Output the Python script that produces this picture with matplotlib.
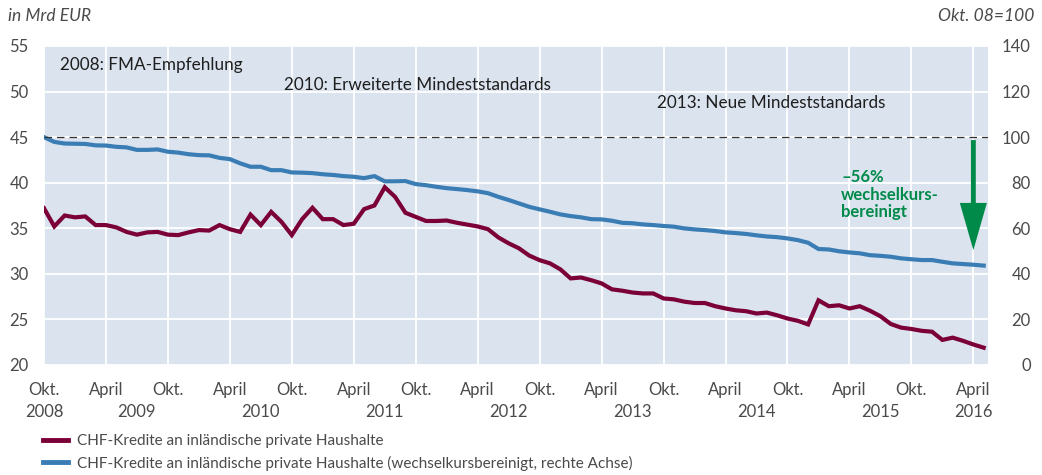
import matplotlib
matplotlib.use("Agg")
import matplotlib.pyplot as plt
import numpy as np
import pandas as pd

plt.rcParams['font.family'] = ['Lato', 'DejaVu Sans']

# monthly data, Okt. 2008 - Mai 2016
months = pd.period_range("2008-10", "2016-05", freq="M")

chf_loans = [
    37.2, 35.2, 36.4, 36.2, 36.3, 35.35, 35.35, 35.1, 34.6, 34.3, 34.55, 34.6,
    34.3, 34.25, 34.55, 34.8, 34.75, 35.35, 34.9, 34.6, 36.5, 35.35, 36.8, 35.7,
    34.25, 36.0, 37.25, 36.0, 36.0, 35.35, 35.5, 37.1, 37.5, 39.5, 38.45, 36.7,
    36.25, 35.8, 35.8, 35.85, 35.6, 35.4, 35.2, 34.9, 34.0, 33.35, 32.8, 32.0,
    31.5, 31.15, 30.5, 29.5, 29.6, 29.3, 28.95, 28.3, 28.15, 27.95, 27.85, 27.85,
    27.3, 27.2, 26.95, 26.8, 26.8, 26.45, 26.2, 26.0, 25.9, 25.65, 25.75, 25.45,
    25.1, 24.85, 24.45, 27.1, 26.45, 26.55, 26.2, 26.45, 25.95, 25.35, 24.5, 24.1,
    23.95, 23.75, 23.65, 22.75, 23.0, 22.65, 22.25, 21.9,
]

chf_loans_fx_adj = [
    100.0, 97.9, 97.2, 97.1, 97.0, 96.4, 96.3, 95.75, 95.5, 94.4, 94.4, 94.6,
    93.6, 93.2, 92.5, 92.1, 92.0, 90.9, 90.35, 88.5, 87.0, 87.0, 85.5, 85.5,
    84.5, 84.4, 84.2, 83.7, 83.4, 82.9, 82.6, 82.0, 82.9, 80.6, 80.6, 80.7,
    79.4, 78.9, 78.2, 77.6, 77.2, 76.75, 76.2, 75.4, 73.8, 72.4, 70.9, 69.4,
    68.3, 67.25, 66.1, 65.35, 64.8, 64.0, 63.9, 63.3, 62.4, 62.2, 61.7, 61.4,
    61.0, 60.7, 59.95, 59.5, 59.2, 58.8, 58.2, 57.9, 57.5, 56.9, 56.4, 56.1,
    55.55, 54.8, 53.65, 50.9, 50.7, 49.9, 49.4, 49.0, 48.2, 47.9, 47.5, 46.8,
    46.4, 46.05, 46.05, 45.3, 44.6, 44.3, 44.0, 43.6,
]

# (text, x in months since Okt. 2008, left-axis y)
events = [
    ("2008: FMA-Empfehlung", 1.55, 52.9),
    ("2010: Erweiterte Mindeststandards", 23.2, 50.7),
    ("2013: Neue Mindeststandards", 59.4, 48.75),
]

label_red = "CHF-Kredite an inländische private Haushalte"
label_blue = "CHF-Kredite an inländische private Haushalte (wechselkursbereinigt, rechte Achse)"

red = "#7b0038"
blue = "#3a7db4"
green = "#008a4a"
bg = "#dbe3ef"
tick_col = "#4a4a4a"

x = np.arange(len(months))

fig = plt.figure(figsize=(10.42, 4.75), dpi=100)
ax = fig.add_axes([0.0422, 0.2316, 0.9058, 0.6716])
ax2 = ax.twinx()

ax.set_facecolor(bg)
ax.set_zorder(1)
ax2.set_zorder(2)
ax2.patch.set_visible(False)

ax.set_xlim(0, 91.4)
ax.set_ylim(20, 55)
ax2.set_ylim(0, 140)
ax.set_yticks(np.arange(20, 56, 5))
ax2.set_yticks(np.arange(0, 141, 20))

# ticks at April and October
tick_pos = [i for i, m in enumerate(months) if m.month in (4, 10)]
tick_lab = ["Okt." if months[i].month == 10 else "April" for i in tick_pos]
ax.set_xticks(tick_pos)
ax.set_xticklabels(tick_lab)

ax.grid(True, color="white", linewidth=1.3)
ax.set_axisbelow(True)
for a in (ax, ax2):
    for s in a.spines.values():
        s.set_visible(False)
ax.tick_params(axis="both", length=0, labelsize=12, colors=tick_col)
ax.tick_params(axis="y", pad=11)
ax.tick_params(axis="x", pad=12)
ax2.tick_params(axis="y", length=0, labelsize=12, colors=tick_col, pad=31)
for t in ax2.get_yticklabels():
    t.set_horizontalalignment("right")

# year labels: under first/last tick, otherwise between April and Okt.
years = sorted(set(m.year for m in months))
for yr in years:
    idx = [i for i in tick_pos if months[i].year == yr]
    if len(idx) == 1:
        xp = idx[0]
    else:
        xp = (idx[0] + idx[1]) / 2
    ax.text(xp, -0.147, str(yr), transform=ax.get_xaxis_transform(),
            ha="center", va="center", fontsize=12, color=tick_col)

ax.plot(x, chf_loans, color=red, lw=3, solid_joinstyle="miter", label=label_red)
ax2.plot(x, chf_loans_fx_adj, color=blue, lw=3, label=label_blue)
ax2.axhline(100, color="#333333", lw=0.9, ls=(0, (6, 4)))

for txt, xp, yv in events:
    ax.text(xp, yv, txt, ha="left", va="center", fontsize=12.3, color="#1e1e1e")

# arrow showing the fall
ap = months.get_loc(pd.Period("2016-04", freq="M"))
ax2.annotate("", xy=(ap, 50.4), xytext=(ap, 98.7),
             arrowprops=dict(width=3.5, headwidth=19.5, headlength=34, shrink=0,
                             color=green, lw=0))
ax2.text(77.2, 85.8, "\u201356%\nwechselkurs-\nbereinigt", ha="left", va="top",
         fontsize=12, fontweight="bold", color=green, linespacing=1.1)

fig.text(0.008, 0.966, "in Mrd EUR", ha="left", va="center", fontsize=12.5,
         style="italic", color=tick_col)
fig.text(0.993, 0.966, "Okt. 08=100", ha="right", va="center", fontsize=12.5,
         style="italic", color=tick_col)

h1, l1 = ax.get_legend_handles_labels()
h2, l2 = ax2.get_legend_handles_labels()
leg = fig.legend(h1 + h2, l1 + l2, loc="upper left", bbox_to_anchor=(0.0355, 0.099),
                 frameon=False, fontsize=11, handlelength=1.6, handletextpad=0.6,
                 labelspacing=0.5, borderaxespad=0, labelcolor=tick_col)
for ln in leg.get_lines():
    ln.set_linewidth(3.5)

fig.savefig("out.png", dpi=100)
